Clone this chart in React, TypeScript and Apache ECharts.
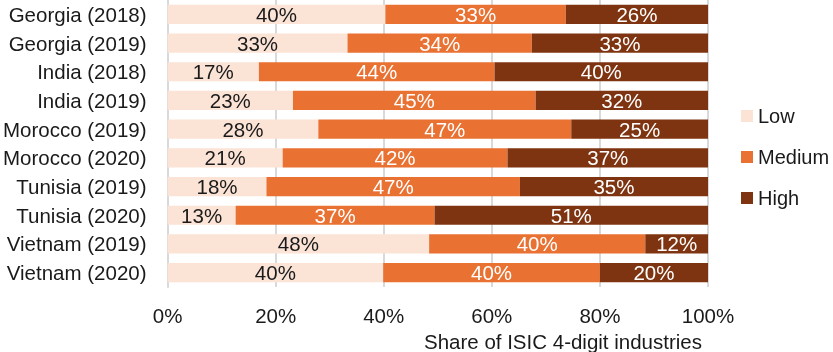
import React, { useEffect, useRef } from "react";
import * as echarts from "echarts";

const categories = [
  "Georgia (2018)",
  "Georgia (2019)",
  "India (2018)",
  "India (2019)",
  "Morocco (2019)",
  "Morocco (2020)",
  "Tunisia (2019)",
  "Tunisia (2020)",
  "Vietnam (2019)",
  "Vietnam (2020)",
];
const lowValues = [40.3, 33.3, 16.9, 23.2, 27.9, 21.3, 18.3, 12.6, 48.4, 39.9];
const mediumValues = [33.4, 34.1, 43.6, 44.9, 46.8, 41.6, 46.9, 36.8, 40.0, 40.1];
const highValues = [26.3, 32.6, 39.5, 31.9, 25.3, 37.1, 34.8, 50.6, 11.6, 20.0];
const seriesNames = ["Low", "Medium", "High"];
const axisTitle = "Share of ISIC 4-digit industries";

const FONT = "Liberation Sans, Arial, sans-serif";
const FS = 20.5;

export default function App() {
  const ref = useRef<HTMLDivElement>(null);
  useEffect(() => {
    if (!ref.current) return;
    const chart = echarts.init(ref.current, null, { renderer: "svg" });
    const colors = ["#FBE3D6", "#E97132", "#7F3411"];
    const labelColors = ["#1a1a1a", "#ffffff", "#ffffff"];
    const data = [lowValues, mediumValues, highValues];
    chart.setOption({
      animation: false,
      textStyle: { fontFamily: FONT },
      grid: { left: 167, right: 125, top: 0, height: 287 },
      legend: {
        orient: "vertical",
        left: 741,
        top: 106,
        padding: 0,
        itemWidth: 12,
        itemHeight: 12,
        itemGap: 21,
        icon: "rect",
        data: seriesNames,
        textStyle: { fontSize: 20, color: "#1a1a1a", fontFamily: FONT, lineHeight: 20 },
      },
      xAxis: {
        type: "value",
        min: 0,
        max: 100,
        interval: 20,
        axisLabel: {
          formatter: (v: number) => v + "%",
          fontSize: FS,
          color: "#1a1a1a",
          margin: 18,
          fontFamily: FONT,
        },
        axisLine: { show: false },
        axisTick: { show: false },
        splitLine: { show: true, lineStyle: { color: "#D9D9D9", width: 2 } },
      },
      yAxis: {
        type: "category",
        data: categories,
        inverse: true,
        axisLabel: { fontSize: FS, color: "#1a1a1a", margin: 21, fontFamily: FONT },
        axisLine: { show: true, lineStyle: { color: "#D9D9D9", width: 2 } },
        axisTick: { show: false },
      },
      graphic: [
        {
          type: "text",
          right: 131,
          top: 331,
          style: { text: axisTitle, fontSize: FS, fill: "#1a1a1a", fontFamily: FONT },
        },
      ],
      series: seriesNames.map((name, i) => ({
        name,
        type: "bar",
        stack: "total",
        barCategoryGap: "33%",
        data: data[i],
        itemStyle: { color: colors[i] },
        label: {
          show: true,
          position: "inside",
          formatter: (p: any) => Math.round(p.value) + "%",
          fontSize: FS,
          color: labelColors[i],
          fontFamily: FONT,
        },
      })),
    });
    return () => chart.dispose();
  }, []);
  return (
    <div
      ref={ref}
      style={{ position: "fixed", left: 0, top: 0, width: 833, height: 352 }}
    />
  );
}
